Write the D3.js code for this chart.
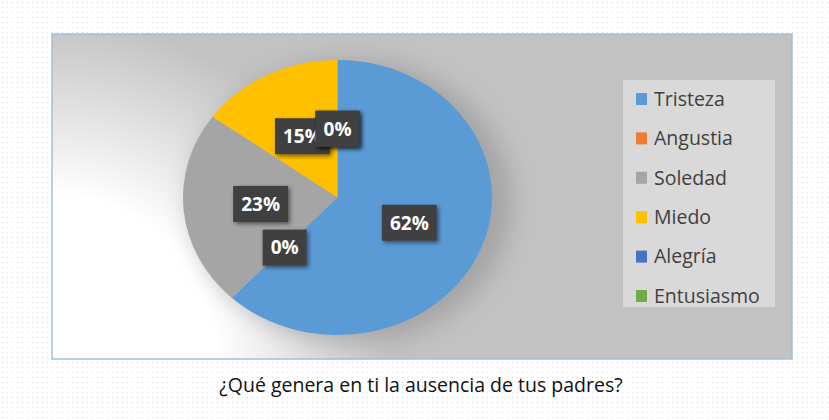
<!DOCTYPE html>
<html lang="es">
<head>
<meta charset="UTF-8">
<title>Ausencia de los padres</title>
<script src="https://d3js.org/d3.v7.min.js"></script>
<style>
    body { margin: 0; background: #fff; }
    svg { display: block; }
</style>
</head>
<body>
<svg id="chart" width="829" height="420"></svg>
<script>
    const categories = ["Tristeza", "Angustia", "Soledad", "Miedo", "Alegría", "Entusiasmo"];
    const percents = [62, 0, 23, 15, 0, 0];
    const colors = ["#5B9BD5", "#ED7D31", "#A5A5A5", "#FFC000", "#4472C4", "#70AD47"];
    const title = "¿Qué genera en ti la ausencia de tus padres?";

    const svg = d3.select("#chart");
    const defs = svg.append("defs");

    // dotted page background
    const pat = defs.append("pattern")
        .attr("id", "dots")
        .attr("width", 5).attr("height", 5)
        .attr("patternUnits", "userSpaceOnUse");
    pat.append("rect").attr("width", 5).attr("height", 5).attr("fill", "#fff");
    pat.append("rect").attr("x", 2).attr("y", 2).attr("width", 1).attr("height", 1).attr("fill", "#dcdcdc");
    svg.append("rect").attr("width", 829).attr("height", 420).attr("fill", "url(#dots)");

    // chart area
    const box = { x: 52, y: 34, w: 740, h: 325 };
    const bg = defs.append("radialGradient")
        .attr("id", "bgGrad")
        .attr("gradientUnits", "userSpaceOnUse")
        .attr("cx", box.x).attr("cy", box.y + box.h)
        .attr("r", 340);
    bg.append("stop").attr("offset", "0%").attr("stop-color", "#ffffff");
    bg.append("stop").attr("offset", "48%").attr("stop-color", "#ffffff");
    bg.append("stop").attr("offset", "100%").attr("stop-color", "#c2c2c2");

    svg.append("rect")
        .attr("x", box.x).attr("y", box.y)
        .attr("width", box.w).attr("height", box.h)
        .attr("fill", "url(#bgGrad)")
        .attr("stroke", "#9fc0dc")
        .attr("stroke-width", 1.5);

    const blur = defs.append("filter").attr("id", "blur")
        .attr("x", "-30%").attr("y", "-30%").attr("width", "160%").attr("height", "160%");
    blur.append("feGaussianBlur").attr("stdDeviation", 12);

    const labShadow = defs.append("filter").attr("id", "labShadow")
        .attr("x", "-30%").attr("y", "-30%").attr("width", "160%").attr("height", "160%");
    labShadow.append("feDropShadow")
        .attr("dx", 2).attr("dy", 2).attr("stdDeviation", 2)
        .attr("flood-color", "#000").attr("flood-opacity", 0.5);

    // pie (elliptical)
    const cx = 337.5, cy = 197.5, rx = 154.5, ry = 137.5;
    const data = categories.map((c, i) => ({ name: c, value: percents[i], color: colors[i] }));

    const pie = d3.pie().value(d => d.value).sort(null);
    const arcs = pie(data);
    const arc = d3.arc().innerRadius(0).outerRadius(ry);
    const labelArc = d3.arc().innerRadius(ry * 0.5).outerRadius(ry * 0.5);

    // soft shadow behind pie
    svg.append("ellipse")
        .attr("cx", cx + 14).attr("cy", cy + 4)
        .attr("rx", rx + 6).attr("ry", ry + 4)
        .attr("fill", "#8c8c8c")
        .attr("opacity", 0.55)
        .attr("filter", "url(#blur)");

    const pieG = svg.append("g")
        .attr("transform", `translate(${cx},${cy}) scale(${rx / ry},1)`);

    pieG.selectAll("path")
        .data(arcs.filter(d => d.data.value > 0))
        .enter().append("path")
        .attr("d", arc)
        .attr("fill", d => d.data.color);

    // data labels
    const labG = svg.append("g").attr("transform", `translate(${cx},${cy})`);
    arcs.forEach(d => {
        const [lx, ly] = labelArc.centroid(d);
        const g = labG.append("g")
            .attr("transform", `translate(${lx * rx / ry},${ly})`);
        const rect = g.append("rect")
            .attr("fill", "#404040")
            .attr("filter", "url(#labShadow)");
        const t = g.append("text")
            .attr("text-anchor", "middle")
            .attr("dy", "0.36em")
            .attr("fill", "#fff")
            .style("font-family", "'Open Sans', sans-serif")
            .style("font-weight", "bold")
            .style("font-size", "19px")
            .text(d.data.value + "%");
        const bb = t.node().getBBox();
        const w = bb.width + 16, h = 36;
        rect.attr("x", -w / 2).attr("y", -h / 2).attr("width", w).attr("height", h);
    });

    // legend
    const leg = { x: 623, y: 80, w: 152, h: 227 };
    svg.append("rect")
        .attr("x", leg.x).attr("y", leg.y)
        .attr("width", leg.w).attr("height", leg.h)
        .attr("fill", "#d9d9d9");

    const legY = d3.scalePoint()
        .domain(categories)
        .range([99, 296]);

    const legItems = svg.selectAll(".legend-item")
        .data(data)
        .enter().append("g")
        .attr("class", "legend-item")
        .attr("transform", d => `translate(636,${legY(d.name)})`);

    legItems.append("rect")
        .attr("x", 0).attr("y", -6)
        .attr("width", 11).attr("height", 12)
        .attr("fill", d => d.color);

    legItems.append("text")
        .attr("x", 18)
        .attr("dy", "0.35em")
        .attr("fill", "#404040")
        .style("font-family", "'Open Sans', sans-serif")
        .style("font-size", "19.5px")
        .text(d => d.name);

    // title below chart
    svg.append("text")
        .attr("x", 421).attr("y", 385)
        .attr("text-anchor", "middle")
        .attr("dy", "0.35em")
        .attr("fill", "#111")
        .style("font-family", "'Open Sans', sans-serif")
        .style("font-size", "19.5px")
        .text(title);
</script>
</body>
</html>
